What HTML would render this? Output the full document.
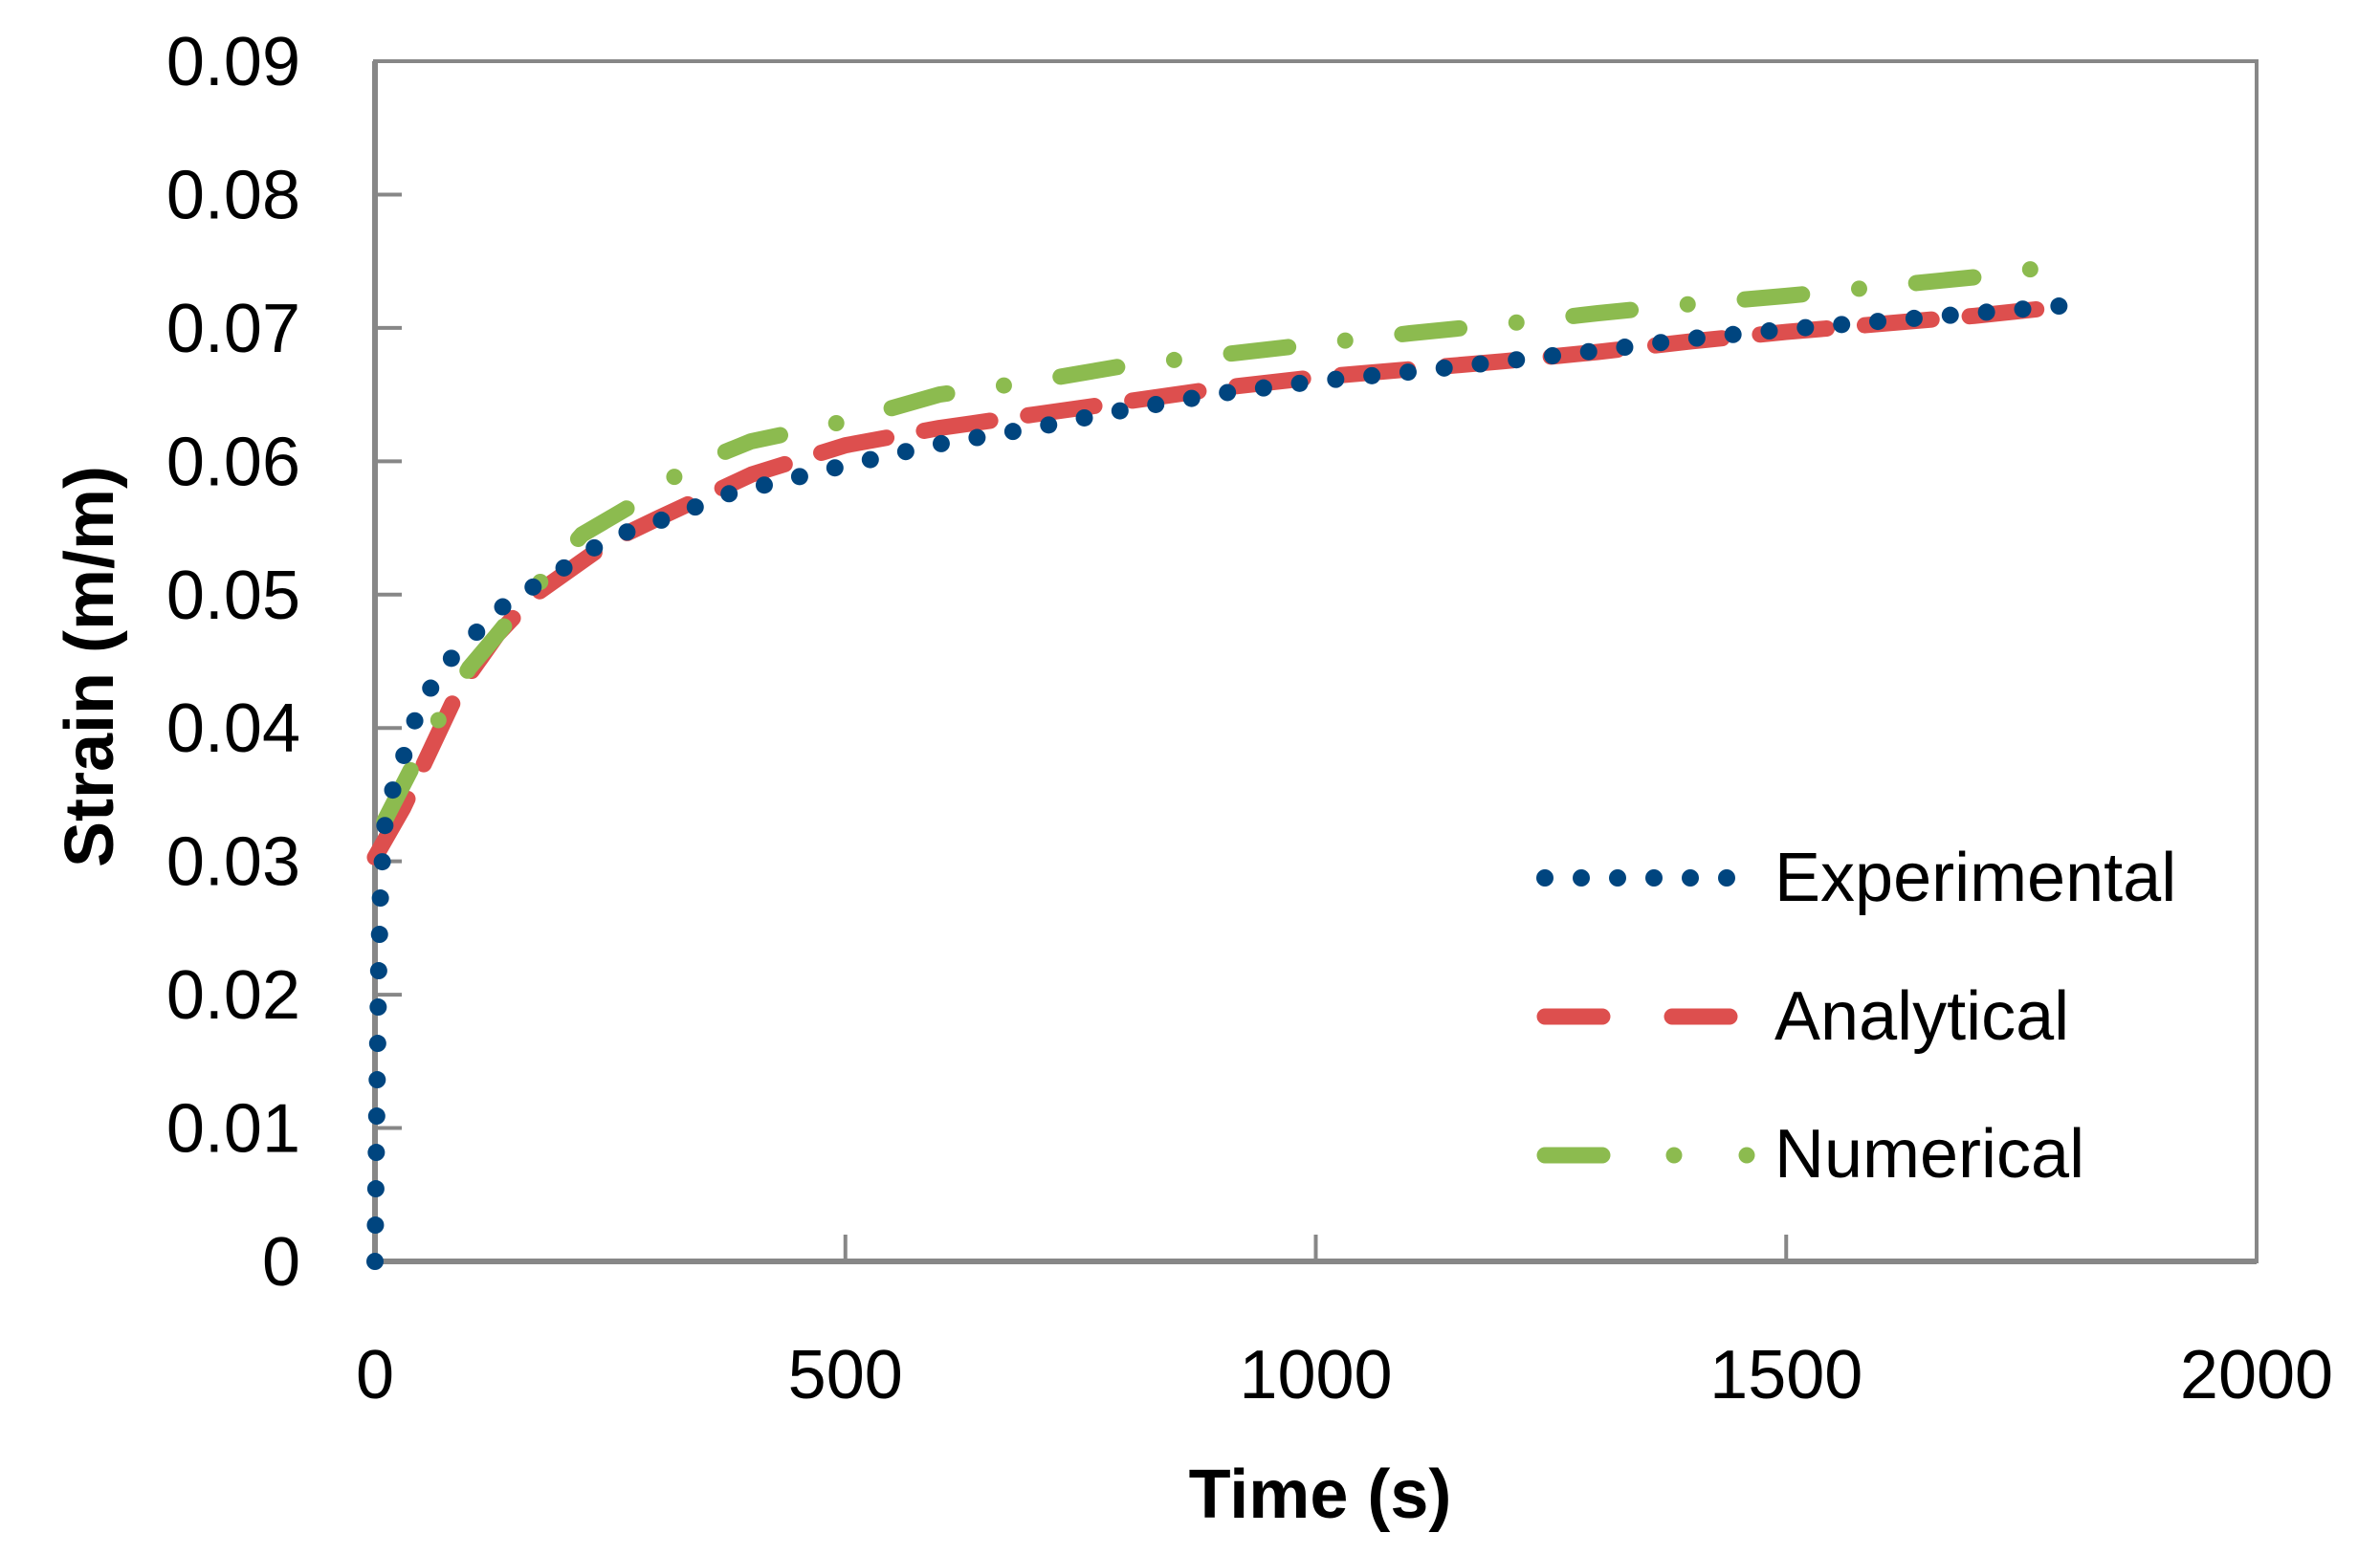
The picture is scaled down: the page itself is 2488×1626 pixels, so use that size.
<!DOCTYPE html>
<html><head><meta charset="utf-8"><style>
html,body{margin:0;padding:0;background:#fff;}
svg{display:block;font-family:"Liberation Sans",sans-serif;}
</style></head><body>
<svg id="chart" width="2488" height="1626" viewBox="0 0 2488 1626">
<g id="axes"></g>
<g id="series"></g>
<text x="1380" y="1587" font-size="72" font-weight="bold" text-anchor="middle">Time (s)</text>
<text transform="translate(118,697) rotate(-90)" font-size="72" font-weight="bold" text-anchor="middle">Strain (m/m)</text>
<g>
 <g>
  <line x1="1615" y1="918" x2="1820" y2="918" stroke="#00457F" stroke-width="18" stroke-linecap="round" stroke-dasharray="0 38"/>
  <text x="1855" y="942" font-size="72">Experimental</text>
 </g>
 <g>
  <line x1="1615" y1="1063" x2="1820" y2="1063" stroke="#DD4F4E" stroke-width="17" stroke-linecap="round" stroke-dasharray="60 73"/>
  <text x="1855" y="1087" font-size="72">Analytical</text>
 </g>
 <g>
  <line x1="1615" y1="1208" x2="1827" y2="1208" stroke="#8CBB4F" stroke-width="17" stroke-linecap="round" stroke-dasharray="60 75 0 76 0 200"/>
  <text x="1855" y="1231" font-size="72">Numerical</text>
 </g>
</g>
</svg>
<script>
const xTicks = [0, 500, 1000, 1500, 2000];
const yTicks = [0, 0.01, 0.02, 0.03, 0.04, 0.05, 0.06, 0.07, 0.08, 0.09];
const yTickLabels = ["0", "0.01", "0.02", "0.03", "0.04", "0.05", "0.06", "0.07", "0.08", "0.09"];
const expTime = [0, 2, 4, 6, 10, 19, 31, 42, 60, 82, 111, 139, 171, 203, 235, 268, 305, 345, 385, 420, 500, 600, 700, 800, 900, 1000, 1100, 1200, 1300, 1400, 1500, 1600, 1700, 1800];
const expStrain = [0, 0.012, 0.022, 0.028, 0.0325, 0.0354, 0.038, 0.0405, 0.0431, 0.0453, 0.0474, 0.0493, 0.0507, 0.0521, 0.0536, 0.0547, 0.0556, 0.0567, 0.0578, 0.0583, 0.0597, 0.0613, 0.0625, 0.0639, 0.0651, 0.066, 0.0667, 0.0675, 0.0683, 0.0692, 0.0699, 0.0705, 0.0711, 0.0717];
const anaTime = [0, 30, 60, 90, 130, 170, 250, 300, 400, 500, 600, 700, 800, 900, 1000, 1100, 1200, 1300, 1400, 1500, 1600, 1700, 1780];
const anaStrain = [0.0303, 0.034, 0.0385, 0.043, 0.047, 0.05, 0.054, 0.0557, 0.059, 0.0612, 0.0625, 0.0635, 0.0645, 0.0655, 0.0663, 0.0669, 0.0675, 0.0682, 0.069, 0.0697, 0.0703, 0.0709, 0.0715];
const numTime = [10, 50, 100, 130, 170, 220, 300, 330, 400, 500, 600, 700, 800, 900, 1000, 1100, 1200, 1300, 1400, 1500, 1600, 1700, 1800];
const numStrain = [0.033, 0.0385, 0.0445, 0.047, 0.0505, 0.0545, 0.0578, 0.0595, 0.0615, 0.063, 0.065, 0.066, 0.0672, 0.068, 0.0688, 0.0696, 0.0703, 0.0711, 0.0718, 0.0724, 0.0731, 0.0738, 0.0748];

const X0 = 392, X1 = 2359, Y0 = 1319, Y1 = 64;
function xs(t){ return X0 + (t - 0) / 2000 * (X1 - X0); }
function ys(v){ return Y0 - v / 0.09 * (Y0 - Y1); }
const NS = "http://www.w3.org/2000/svg";
const axes = document.getElementById('axes');
const series = document.getElementById('series');
function mk(tag, attrs, parent){ const e = document.createElementNS(NS, tag); for (const k in attrs) e.setAttribute(k, attrs[k]); parent.appendChild(e); return e; }

const frame = mk('rect', {x: X0, y: Y1, width: X1 - X0, height: Y0 - Y1, fill: 'none', stroke: '#878787', 'stroke-width': 4}, axes);


const yax = mk('line', {x1: X0, y1: Y1, x2: X0, y2: Y0, stroke: '#878787', 'stroke-width': 6}, axes);


const xax = mk('line', {x1: X0, y1: Y0, x2: X1, y2: Y0, stroke: '#878787', 'stroke-width': 6}, axes);



yTicks.forEach((v, i) => {
  const y = ys(v);
  const tk = mk('line', {x1: X0, y1: y, x2: X0 + 28, y2: y, stroke: '#878787', 'stroke-width': 4}, axes);
  
  
  const lb = mk('text', {x: 314, y: y + 25, 'font-size': 72, 'text-anchor': 'end'}, axes);
  lb.textContent = yTickLabels[i];
  
  
});
xTicks.forEach(t => {
  const x = xs(t);
  const tk = mk('line', {x1: x, y1: Y0, x2: x, y2: Y0 - 28, stroke: '#878787', 'stroke-width': 4}, axes);
  
  
  const lb = mk('text', {x: x, y: 1462, 'font-size': 72, 'text-anchor': 'middle'}, axes);
  lb.textContent = String(t);
  
  
});

function pts(T, V){ return T.map((t, i) => xs(t).toFixed(1) + ',' + ys(V[i]).toFixed(1)).join(' '); }
const ana = mk('polyline', {points: pts(anaTime, anaStrain), fill: 'none', stroke: '#DD4F4E', 'stroke-width': 17, 'stroke-linecap': 'round', 'stroke-linejoin': 'round', 'stroke-dasharray': '70 40'}, series);


const num = mk('polyline', {points: pts(numTime, numStrain), fill: 'none', stroke: '#8CBB4F', 'stroke-width': 17, 'stroke-linecap': 'round', 'stroke-linejoin': 'round', 'stroke-dasharray': '60 60 0 60'}, series);


const exp = mk('polyline', {points: pts(expTime, expStrain), fill: 'none', stroke: '#00457F', 'stroke-width': 18, 'stroke-linecap': 'round', 'stroke-linejoin': 'round', 'stroke-dasharray': '0 38'}, series);


</script>
</body></html>
